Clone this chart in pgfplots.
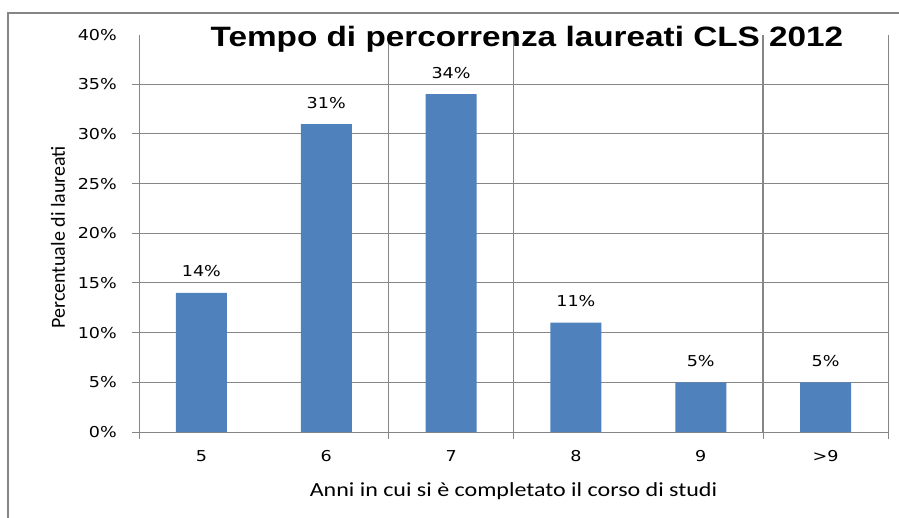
\documentclass[border=0pt]{standalone}
\usepackage{fontspec}
\usepackage{pgfplots}
\pgfplotsset{compat=1.18}
\setmainfont{DejaVu Sans}
\newfontfamily\tickf[FakeStretch=1.17]{DejaVu Sans}
\newfontfamily\labf[FakeStretch=1.2]{Carlito}
\newfontfamily\ylabf{Carlito}
\newfontfamily\titf[FakeStretch=1.19]{Liberation Sans}
\definecolor{barblue}{HTML}{4F81BD}
\definecolor{gridg}{HTML}{868686}
\pgfplotstableread{
x y
0 14
1 31
2 34
3 11
4 5
5 5
}\datatab
\begin{document}
\begin{tikzpicture}
\useasboundingbox (0,0) rectangle (899pt,517pt);
\fill[white] (0,0) rectangle (899pt,517pt);
\draw[gridg, line width=1.5pt] (8pt,-2pt) -- (8pt,504pt) -- (901pt,504pt);
\begin{axis}[
  at={(139pt,85pt)}, anchor=south west,
  scale only axis, width=749pt, height=397.4pt,
  xmin=-0.5, xmax=5.5, ymin=0, ymax=40,
  axis x line*=bottom, axis y line*=left,
  axis line style={gridg, line width=1pt},
  /pgf/number format/assume math mode=true,
  tick align=outside,
  major tick length=6.5pt, minor tick length=6.5pt,
  tick style={gridg, line width=1pt},
  xtick={-0.5,1.5,5.5}, xticklabels={},
  minor xtick={2.5,4.5},
  xmajorgrids, xminorgrids,
  major grid style={gridg, line width=1pt},
  minor grid style={gridg, line width=1.6pt},
  extra x ticks={0,1,2,3,4,5},
  extra x tick labels={5,6,7,8,9,>9},
  extra x tick style={grid=none, xtick style={draw=none}, xticklabel style={anchor=north, inner sep=0pt, yshift=-12pt}},
  ytick={0,5,...,35},
  yticklabel={\pgfmathprintnumber{\tick}\%},
  ymajorgrids,
  extra y ticks={40}, extra y tick labels={40\%},
  extra y tick style={grid=none, ytick style={draw=none}},
  tick label style={font=\tickf\fontsize{15}{18}\selectfont, black},
  yticklabel style={anchor=east, inner sep=0pt, xshift=-15.5pt},
  ybar, bar width=51pt,
  nodes near coords={\pgfmathprintnumber{\pgfplotspointmeta}\%},
  every node near coord/.append style={font=\tickf\fontsize{15}{18}\selectfont, black, anchor=base, inner sep=0pt, yshift=16pt},
  title={Tempo di percorrenza laureati CLS 2012},
  title style={font=\titf\bfseries\fontsize{28}{30}\selectfont, at={(axis description cs:0.518,0.955)}, anchor=base, inner sep=0pt},
  xlabel={Anni in cui si è completato il corso di studi},
  xlabel style={font=\labf\fontsize{20}{24}\selectfont, at={(axis description cs:0.5,-0.163)}, anchor=base, inner sep=0pt},
  ylabel={Percentuale di laureati},
  ylabel style={font=\ylabf\fontsize{20}{24}\selectfont, at={(axis description cs:-0.0988,0.49)}, anchor=base, inner sep=0pt},
]
\addplot[fill=barblue, draw=none] table[x=x, y=y] {\datatab};
\end{axis}
\end{tikzpicture}
\end{document}
